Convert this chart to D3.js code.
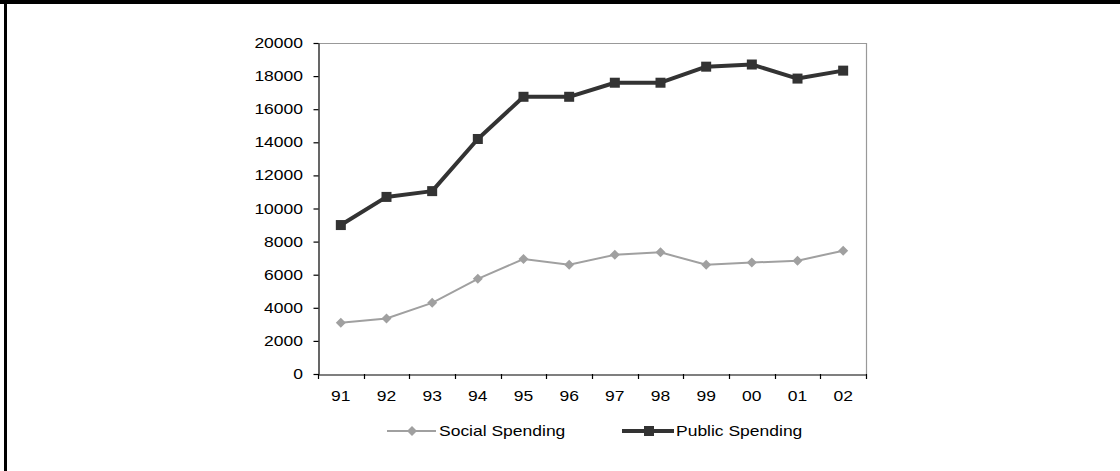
<!DOCTYPE html>
<html>
<head>
<meta charset="utf-8">
<script src="https://cdn.jsdelivr.net/npm/d3@7"></script>
<style>
  html, body { margin: 0; padding: 0; background: #fff; }
  svg { display: block; }
  text { font-family: Arial, "Liberation Sans", sans-serif; fill: #000; }
</style>
</head>
<body>
<svg id="chart" width="1120" height="471"></svg>
<script>
// Years (two-digit labels)
const years = ["91", "92", "93", "94", "95", "96", "97", "98", "99", "00", "01", "02"];
// Social spending per year
const socialSpending = [3100, 3350, 4300, 5750, 6950, 6600, 7200, 7350, 6600, 6730, 6850, 7450];
// Public spending per year
const publicSpending = [9000, 10700, 11050, 14200, 16750, 16750, 17600, 17600, 18570, 18700, 17850, 18330];
// Value axis ticks
const yTicks = [0, 2000, 4000, 6000, 8000, 10000, 12000, 14000, 16000, 18000, 20000];
const seriesNames = ["Social Spending", "Public Spending"];

const W = 1120, H = 471;
const plot = { left: 318, right: 866, top: 43, bottom: 374 };
const SX = 1.25;          // horizontal text stretch
const FONT = 14;

const svg = d3.select("#chart");

// Frame bands
svg.append("rect").attr("x", 0).attr("y", 0).attr("width", W).attr("height", 4).attr("fill", "#000");
svg.append("rect").attr("x", 4).attr("y", 0).attr("width", 3).attr("height", H).attr("fill", "#000");

const x = d3.scaleBand().domain(years).range([plot.left, plot.right]).padding(0);
const y = d3.scaleLinear().domain([0, 20000]).range([plot.bottom, plot.top]);
const cx = d => x(d) + x.bandwidth() / 2;

// Plot-area outline (top and right)
svg.append("path")
  .attr("d", `M${plot.left},${plot.top + 0.5}H${plot.right + 0.5}V${plot.bottom}`)
  .attr("fill", "none").attr("stroke", "#999").attr("stroke-width", 1.2);

// Value axis
const yAxis = svg.append("g")
  .attr("transform", `translate(${plot.left + 0.5},0)`)
  .call(d3.axisLeft(y).tickValues(yTicks).tickSize(5).tickSizeOuter(0).tickFormat(""));
yAxis.selectAll("path,line").attr("stroke", "#000").attr("stroke-width", 1.2);

svg.append("g").selectAll("text").data(yTicks).join("text")
  .attr("transform", d => `translate(${plot.left - 15},${y(d) + 5}) scale(${SX},1)`)
  .attr("text-anchor", "end")
  .attr("font-size", FONT)
  .text(d => d);

// Category axis
const xAxis = svg.append("g")
  .attr("transform", `translate(0,${plot.bottom + 0.5})`)
  .call(d3.axisBottom(x).tickSize(0).tickSizeOuter(0).tickFormat(""));
xAxis.select(".domain").attr("stroke", "#000").attr("stroke-width", 1.2);
xAxis.selectAll(".tick").remove();

const bounds = years.map(d => x(d)).concat([x.range()[1]]);
svg.append("g").selectAll("line").data(bounds).join("line")
  .attr("x1", d => Math.round(d) + 0.5).attr("x2", d => Math.round(d) + 0.5)
  .attr("y1", plot.bottom).attr("y2", plot.bottom + 5)
  .attr("stroke", "#000").attr("stroke-width", 1.2);

svg.append("g").selectAll("text").data(years).join("text")
  .attr("transform", d => `translate(${cx(d)},${plot.bottom + 27}) scale(${SX},1)`)
  .attr("text-anchor", "middle")
  .attr("font-size", FONT)
  .text(d => d);

// Series
const line = d3.line().x(d => cx(d[0])).y(d => y(d[1]));
const socialPts = years.map((yr, i) => [yr, socialSpending[i]]);
const publicPts = years.map((yr, i) => [yr, publicSpending[i]]);

const SOCIAL = "#a0a0a0", PUBLIC = "#333333";
const diamond = r => `M0,${-r}L${r},0L0,${r}L${-r},0Z`;

svg.append("path").datum(socialPts).attr("d", line)
  .attr("fill", "none").attr("stroke", SOCIAL).attr("stroke-width", 2);
svg.append("g").selectAll("path").data(socialPts).join("path")
  .attr("transform", d => `translate(${cx(d[0])},${y(d[1])})`)
  .attr("d", diamond(5)).attr("fill", SOCIAL);

svg.append("path").datum(publicPts).attr("d", line)
  .attr("fill", "none").attr("stroke", PUBLIC).attr("stroke-width", 4).attr("stroke-linejoin", "round");
svg.append("g").selectAll("rect").data(publicPts).join("rect")
  .attr("x", d => cx(d[0]) - 5).attr("y", d => y(d[1]) - 5)
  .attr("width", 10).attr("height", 10).attr("fill", PUBLIC);

// Legend
const ly = 431;
const leg = svg.append("g");
leg.append("line").attr("x1", 387).attr("x2", 436).attr("y1", ly).attr("y2", ly)
  .attr("stroke", SOCIAL).attr("stroke-width", 2);
leg.append("path").attr("transform", `translate(412,${ly})`).attr("d", diamond(5)).attr("fill", SOCIAL);
leg.append("text").attr("transform", `translate(439,${ly + 5}) scale(${SX},1)`)
  .attr("font-size", FONT).text(seriesNames[0]);

leg.append("line").attr("x1", 622).attr("x2", 674).attr("y1", ly).attr("y2", ly)
  .attr("stroke", PUBLIC).attr("stroke-width", 4);
leg.append("rect").attr("x", 644).attr("y", ly - 5).attr("width", 10).attr("height", 10).attr("fill", PUBLIC);
leg.append("text").attr("transform", `translate(676,${ly + 5}) scale(${SX},1)`)
  .attr("font-size", FONT).text(seriesNames[1]);
</script>
</body>
</html>
